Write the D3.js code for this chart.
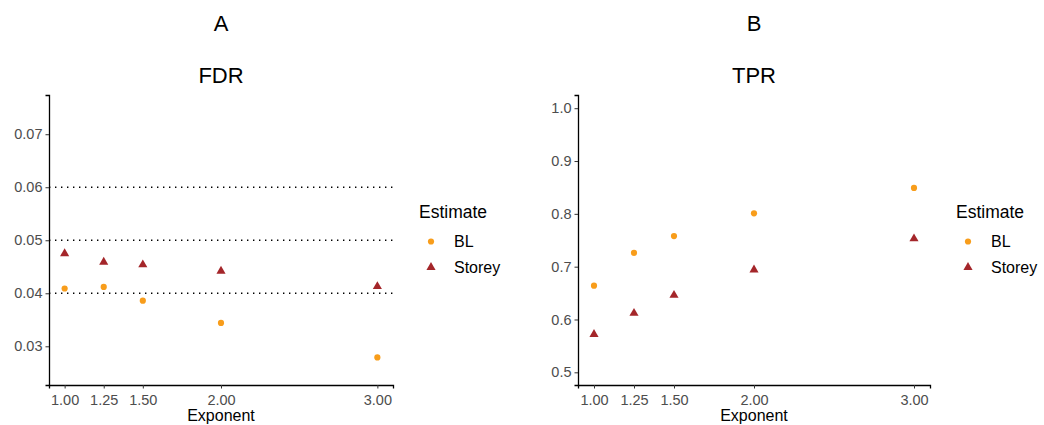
<!DOCTYPE html>
<html>
<head>
<meta charset="utf-8">
<script src="https://cdn.jsdelivr.net/npm/d3@7"></script>
<style>
  body { margin: 0; background: #fff; }
  svg { font-family: "Liberation Sans", Arial, sans-serif; }
  .tick text { fill: #4d4d4d; font-size: 14.5px; }
</style>
</head>
<body>
<svg id="chart" width="1044" height="425"></svg>
<script>
// data
const exponents = [1.00, 1.25, 1.50, 2.00, 3.00];
const xTicks = [1.00, 1.25, 1.50, 2.00, 3.00];

const fdrBL     = [0.0409, 0.0412, 0.0386, 0.0344, 0.0279];
const fdrStorey = [0.0475, 0.0459, 0.0454, 0.0442, 0.0413];
const fdrTicks  = [0.03, 0.04, 0.05, 0.06, 0.07];
const fdrLines  = [0.04, 0.05, 0.06];

const tprBL     = [0.664, 0.726, 0.758, 0.801, 0.849];
const tprStorey = [0.572, 0.612, 0.646, 0.694, 0.753];
const tprTicks  = [0.5, 0.6, 0.7, 0.8, 0.9, 1.0];

const seriesNames = ["BL", "Storey"];
const seriesColors = ["#F89D1B", "#A4262A"];

const svg = d3.select("#chart");

function panel(opt){
    const g = svg.append("g");
    const x = d3.scaleLinear().domain([0.9, 3.1]).range([opt.left, opt.right]);
    const y = d3.scaleLinear().domain(opt.yDomain).range([opt.bottom, opt.top]);

    // letter + title
    g.append("text").attr("x", (opt.left + opt.right) / 2).attr("y", 31)
        .attr("text-anchor", "middle").style("font-size", "22px").text(opt.letter);
    g.append("text").attr("x", (opt.left + opt.right) / 2).attr("y", 83)
        .attr("text-anchor", "middle").style("font-size", "22px").text(opt.title);

    // reference lines
    g.selectAll(".hl").data(opt.hlines || []).enter().append("line")
        .attr("x1", opt.left).attr("x2", opt.right)
        .attr("y1", d => y(d)).attr("y2", d => y(d))
        .attr("stroke", "#000").attr("stroke-width", 1.4)
        .attr("stroke-dasharray", "1.4,4.6");

    const xAxis = g.append("g").attr("transform", `translate(0,${opt.bottom})`)
        .call(d3.axisBottom(x).tickValues(xTicks).tickFormat(d3.format(".2f")).tickSizeOuter(0).tickSize(3.5).tickPadding(3));
    const yAxis = g.append("g").attr("transform", `translate(${opt.left},0)`)
        .call(d3.axisLeft(y).tickValues(opt.yTicks).tickFormat(opt.fmt).tickSizeOuter(0).tickSize(3.5).tickPadding(3));
    [xAxis, yAxis].forEach(a => {
        a.select(".domain").attr("stroke", "#000").attr("stroke-width", 1.3);
        a.selectAll(".tick line").attr("stroke", "#333").attr("stroke-width", 1);
    });
    xAxis.selectAll(".tick text").attr("dy", "0.9em");

    g.append("text").attr("x", (opt.left + opt.right) / 2).attr("y", 421)
        .attr("text-anchor", "middle").style("font-size", "16px").text("Exponent");

    // points
    const tri = d3.symbol().type(d3.symbolTriangle).size(36);
    g.selectAll(".bl").data(opt.bl).enter().append("circle")
        .attr("cx", (d, i) => x(exponents[i])).attr("cy", d => y(d))
        .attr("r", 3.1).attr("fill", seriesColors[0]);
    g.selectAll(".st").data(opt.storey).enter().append("path")
        .attr("d", tri)
        .attr("transform", (d, i) => `translate(${x(exponents[i])},${y(d)})`)
        .attr("fill", seriesColors[1]);

    // legend
    const lg = g.append("g");
    lg.append("text").attr("x", opt.legX).attr("y", 218).style("font-size", "17.5px").text("Estimate");
    seriesNames.forEach((n, i) => {
        const cy = 241.5 + i * 25.8;
        if (i === 0) {
            lg.append("circle").attr("cx", opt.legX + 12).attr("cy", cy).attr("r", 3.1).attr("fill", seriesColors[0]);
        } else {
            lg.append("path").attr("d", tri).attr("transform", `translate(${opt.legX + 12},${cy})`).attr("fill", seriesColors[1]);
        }
        lg.append("text").attr("x", opt.legX + 35).attr("y", cy + 5.8).style("font-size", "16px").text(n);
    });
}

panel({letter: "A", title: "FDR", left: 49, right: 393, top: 95, bottom: 385,
       yDomain: [0.0227, 0.0774], yTicks: fdrTicks, fmt: d3.format(".2f"),
       bl: fdrBL, storey: fdrStorey, hlines: fdrLines, legX: 419});

panel({letter: "B", title: "TPR", left: 578, right: 930, top: 95, bottom: 385,
       yDomain: [0.476, 1.025], yTicks: tprTicks, fmt: d3.format(".1f"),
       bl: tprBL, storey: tprStorey, hlines: [], legX: 956});
</script>
</body>
</html>
